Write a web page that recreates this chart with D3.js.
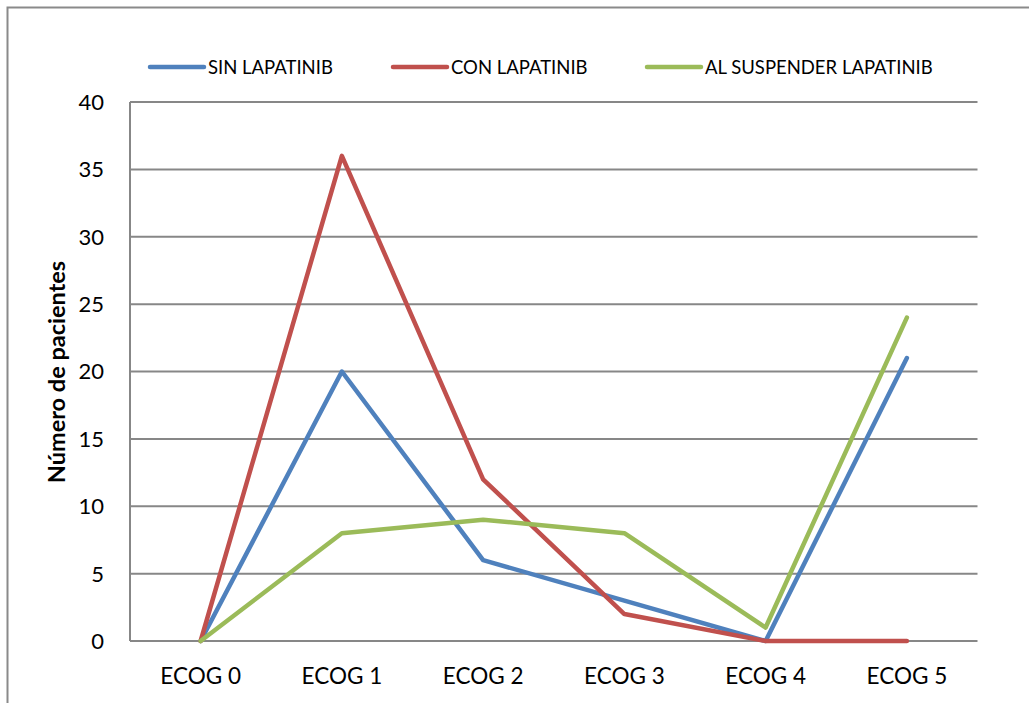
<!DOCTYPE html>
<html>
<head>
<meta charset="utf-8">
<script src="https://cdn.jsdelivr.net/npm/d3@7"></script>
<style>
  html, body { margin: 0; padding: 0; background: #fff; }
  svg { display: block; }
  text { font-family: Lato, "Open Sans", sans-serif; fill: #000; }
</style>
</head>
<body>
<svg id="chart" width="1029" height="703"></svg>
<script>
// ECOG performance-status categories
const categories = ["ECOG 0", "ECOG 1", "ECOG 2", "ECOG 3", "ECOG 4", "ECOG 5"];
const seriesNames = ["SIN LAPATINIB", "CON LAPATINIB", "AL SUSPENDER LAPATINIB"];
const sinLapatinib = [0, 20, 6, 3, 0, 21];
const conLapatinib = [0, 36, 12, 2, 0, 0];
const alSuspender = [0, 8, 9, 8, 1, 24];
const yTicks = [0, 5, 10, 15, 20, 25, 30, 35, 40];
const seriesColors = ["#4F81BD", "#C0504D", "#9BBB59"];

const series = [sinLapatinib, conLapatinib, alSuspender].map((values, i) => ({
  name: seriesNames[i], color: seriesColors[i], values
}));

const svg = d3.select("#chart");
const plot = { left: 130, right: 977.5, top: 102, bottom: 641 };

// Outer chart frame (left and top edges)
svg.append("path")
  .attr("d", "M7.5,703 L7.5,7.5 L1029,7.5")
  .attr("fill", "none").attr("stroke", "#8a8a8a").attr("stroke-width", 2);

const x = d3.scaleBand().domain(categories).range([plot.left, plot.right]).padding(0);
const y = d3.scaleLinear().domain([0, 40]).range([plot.bottom, plot.top]);

// Horizontal gridlines
svg.append("g").selectAll("line").data(yTicks).join("line")
  .attr("x1", plot.left).attr("x2", plot.right)
  .attr("y1", d => y(d)).attr("y2", d => y(d))
  .attr("stroke", "#878787").attr("stroke-width", 2);

// Y axis line
svg.append("line")
  .attr("x1", plot.left).attr("x2", plot.left)
  .attr("y1", plot.top).attr("y2", plot.bottom)
  .attr("stroke", "#878787").attr("stroke-width", 2);

// Y tick labels
svg.append("g").selectAll("text").data(yTicks).join("text")
  .attr("x", 104).attr("y", d => y(d))
  .attr("dy", "0.36em")
  .attr("text-anchor", "end")
  .attr("font-size", 22)
  .text(d => d);

// X category labels
svg.append("g").selectAll("text").data(categories).join("text")
  .attr("x", d => x(d) + x.bandwidth() / 2)
  .attr("y", 684)
  .attr("text-anchor", "middle")
  .attr("font-size", 22.5)
  .text(d => d);

// Y axis title
svg.append("text")
  .attr("transform", "translate(65,372) rotate(-90)")
  .attr("text-anchor", "middle")
  .attr("font-size", 23.5)
  .attr("font-weight", "bold")
  .text("Número de pacientes");

// Series lines
const line = d3.line()
  .x((d, i) => x(categories[i]) + x.bandwidth() / 2)
  .y(d => y(d));

svg.append("g").selectAll("path").data(series).join("path")
  .attr("d", d => line(d.values))
  .attr("fill", "none")
  .attr("stroke", d => d.color)
  .attr("stroke-width", 4.5)
  .attr("stroke-linejoin", "round")
  .attr("stroke-linecap", "round");

// Legend
const legendX = [150, 393, 647];
const legend = svg.append("g").selectAll("g").data(series).join("g")
  .attr("transform", (d, i) => `translate(${legendX[i]},67)`);
legend.append("line")
  .attr("x1", 0).attr("x2", 54).attr("y1", 0).attr("y2", 0)
  .attr("stroke", d => d.color).attr("stroke-width", 4.5)
  .attr("stroke-linecap", "round");
legend.append("text")
  .attr("x", 58).attr("y", 0).attr("dy", "0.36em")
  .attr("font-size", 18.5)
  .text(d => d.name);
</script>
</body>
</html>
